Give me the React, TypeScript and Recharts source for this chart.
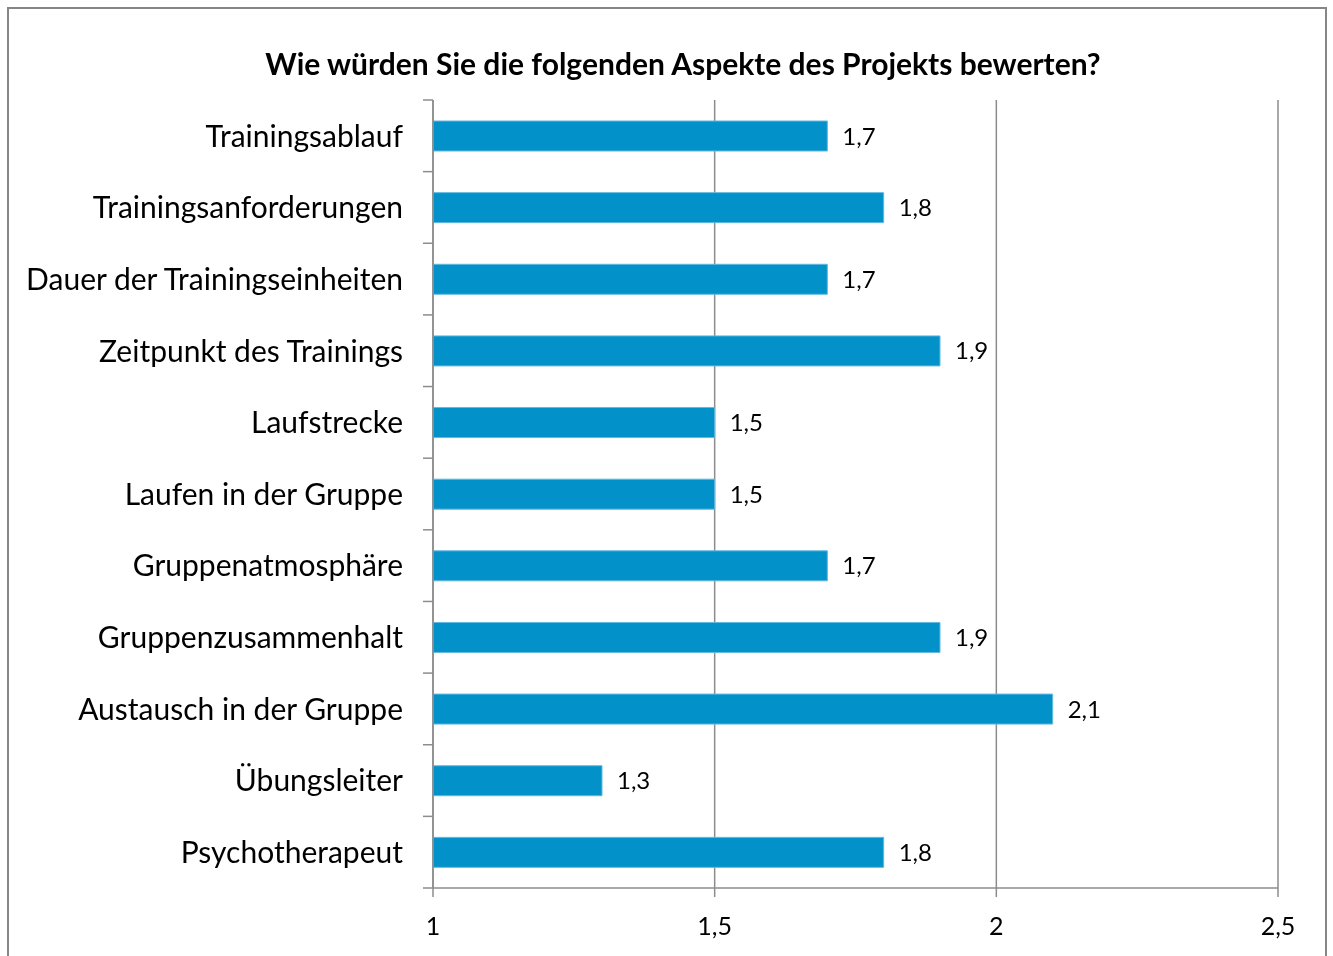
import { BarChart, Bar, XAxis, YAxis, CartesianGrid, LabelList } from 'recharts';

const aspects = [
  'Trainingsablauf',
  'Trainingsanforderungen',
  'Dauer der Trainingseinheiten',
  'Zeitpunkt des Trainings',
  'Laufstrecke',
  'Laufen in der Gruppe',
  'Gruppenatmosphäre',
  'Gruppenzusammenhalt',
  'Austausch in der Gruppe',
  'Übungsleiter',
  'Psychotherapeut',
];
const ratings = [1.7, 1.8, 1.7, 1.9, 1.5, 1.5, 1.7, 1.9, 2.1, 1.3, 1.8];
const xTicks = [1, 1.5, 2, 2.5];

const FONT = 'Lato, "Open Sans", sans-serif';
const AXIS = '#8c8c8c';

const data = aspects.map((name, i) => ({ name, value: ratings[i] }));

const comma = (v: number) => String(v).replace('.', ',');

// category label plus the tick marks that sit on the band boundaries
function CategoryTick(props: any) {
  const { x, y, payload, index } = props;
  const half = payload?.offset ?? 35.8;
  const isLast = index === aspects.length - 1;
  return (
    <g>
      <line x1={x + 20} x2={x + 30} y1={y - half} y2={y - half} stroke={AXIS} strokeWidth={1.5} />
      {isLast && <line x1={x + 20} x2={x + 30} y1={y + half} y2={y + half} stroke={AXIS} strokeWidth={1.5} />}
      <text x={x} y={y} dy="0.36em" textAnchor="end" fontSize={30} fontFamily={FONT} fill="#000">
        {payload.value}
      </text>
    </g>
  );
}

export default function App() {
  return (
    <div style={{ position: 'relative', width: 1333, height: 956 }}>
      <div
        style={{
          position: 'fixed',
          left: 7,
          top: 7,
          width: 1320,
          height: 980,
          border: '2px solid #868686',
          boxSizing: 'border-box',
        }}
      />
      <div
        style={{
          position: 'fixed',
          left: 0,
          top: 45,
          width: 1366,
          textAlign: 'center',
          fontFamily: FONT,
          fontWeight: 'bold',
          fontSize: 30,
          lineHeight: '36px',
          color: '#000',
        }}
      >
        Wie würden Sie die folgenden Aspekte des Projekts bewerten?
      </div>
      <div style={{ position: 'fixed', left: 0, top: 0 }}>
        <BarChart
          width={1333}
          height={956}
          data={data}
          layout="vertical"
          margin={{ top: 100, right: 55, bottom: 0, left: 0 }}
        >
          <CartesianGrid horizontal={false} stroke={AXIS} strokeWidth={1.5} />
          <XAxis
            type="number"
            domain={[1, 2.5]}
            ticks={xTicks}
            tickFormatter={comma}
            stroke={AXIS}
            strokeWidth={1.5}
            tickSize={9}
            tickMargin={20}
            tick={{ fill: '#000', fontSize: 25, fontFamily: FONT }}
            height={68}
          />
          <YAxis
            type="category"
            dataKey="name"
            width={433}
            tickLine={false}
            tickSize={10}
            tickMargin={20}
            stroke={AXIS}
            strokeWidth={1.5}
            tick={<CategoryTick />}
            interval={0}
          />
          <Bar dataKey="value" fill="#0391C9" stroke="#63b9e0" strokeWidth={1} barSize={30} isAnimationActive={false}>
            <LabelList
              dataKey="value"
              position="right"
              offset={15}
              formatter={(v: any) => comma(v)}
              style={{ fill: '#000', fontSize: 24, fontFamily: FONT }}
            />
          </Bar>
        </BarChart>
      </div>
    </div>
  );
}
